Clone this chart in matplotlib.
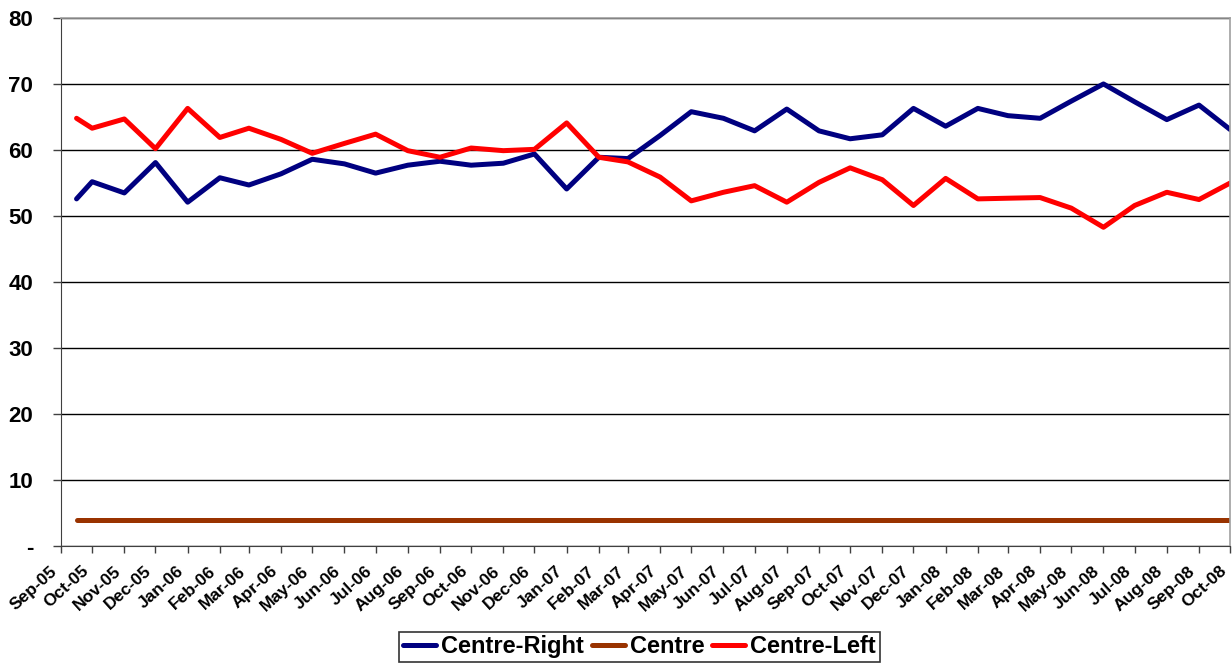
import matplotlib
matplotlib.use('Agg')
import matplotlib.pyplot as plt
import matplotlib.transforms as mtransforms
import pandas as pd

plt.rcParams['font.family'] = ['Liberation Sans', 'DejaVu Sans']
plt.rcParams['font.weight'] = 'bold'

# даты опросов (первая точка - середина сентября 2005, дальше по месяцам)
dates = ['2005-09-16', '2005-10-01', '2005-11-01', '2005-12-01',
         '2006-01-01', '2006-02-01', '2006-03-01', '2006-04-01', '2006-05-01', '2006-06-01',
         '2006-07-01', '2006-08-01', '2006-09-01', '2006-10-01', '2006-11-01', '2006-12-01',
         '2007-01-01', '2007-02-01', '2007-03-01', '2007-04-01', '2007-05-01', '2007-06-01',
         '2007-07-01', '2007-08-01', '2007-09-01', '2007-10-01', '2007-11-01', '2007-12-01',
         '2008-01-01', '2008-02-01', '2008-03-01', '2008-04-01', '2008-05-01', '2008-06-01',
         '2008-07-01', '2008-08-01', '2008-09-01', '2008-10-01']

centre_right = [52.6, 55.2, 53.5, 58.1, 52.1, 55.8, 54.7, 56.4, 58.6, 57.9,
                56.5, 57.7, 58.3, 57.7, 58.0, 59.4, 54.1, 58.9, 58.7, 62.2,
                65.8, 64.8, 62.9, 66.2, 62.9, 61.7, 62.3, 66.3, 63.6, 66.3,
                65.2, 64.8, 67.4, 70.0, 67.3, 64.6, 66.8, 63.1]

centre = [4, 4, 4, 4, 4, 4, 4, 4, 4, 4,
          4, 4, 4, 4, 4, 4, 4, 4, 4, 4,
          4, 4, 4, 4, 4, 4, 4, 4, 4, 4,
          4, 4, 4, 4, 4, 4, 4, 4]

centre_left = [64.8, 63.3, 64.7, 60.2, 66.3, 61.9, 63.3, 61.6, 59.5, 61.0,
               62.4, 59.9, 58.9, 60.3, 59.9, 60.1, 64.1, 58.9, 58.2, 55.9,
               52.3, 53.6, 54.6, 52.1, 55.1, 57.3, 55.5, 51.6, 55.7, 52.6,
               52.7, 52.8, 51.2, 48.3, 51.6, 53.6, 52.5, 55.0]

y_ticks = [0, 10, 20, 30, 40, 50, 60, 70, 80]
y_labels = ['-', '10', '20', '30', '40', '50', '60', '70', '80']

x = pd.to_datetime(dates)
months = pd.date_range('2005-09-01', '2008-10-01', freq='MS')

fig = plt.figure(figsize=(12.32, 6.63), dpi=100)
ax = fig.add_axes([0.0495, 0.176, 0.949, 0.797])

ax.plot(x, centre_right, color='#000080', lw=3.6, label='Centre-Right', solid_capstyle='round')
ax.plot(x, centre, color='#993300', lw=3.6, label='Centre', solid_capstyle='round')
ax.plot(x, centre_left, color='#FF0000', lw=3.6, label='Centre-Left', solid_capstyle='round')

ax.set_xlim(months[0], months[-1])
ax.set_ylim(0, 80)
ax.set_yticks(y_ticks)
ax.set_yticklabels(y_labels, fontsize=16, fontweight='bold')

# подписи месяцев рисуем сами, чтобы сдвинуть их влево-вниз как в Excel
ax.set_xticks(months)
ax.set_xticklabels([])
shift = mtransforms.ScaledTranslation(-11 / 100, -17 / 100, fig.dpi_scale_trans)
for m in months:
    ax.text(m, 0, m.strftime('%b-%y'), transform=ax.get_xaxis_transform() + shift,
            rotation=42, ha='right', va='top', rotation_mode='anchor',
            fontsize=12.5, fontweight='bold', clip_on=False)

ax.tick_params(axis='y', length=6, width=1, pad=14, color='#404040')
ax.tick_params(axis='x', length=5, width=1, color='#404040')

ax.grid(axis='y', color='black', lw=1)
ax.set_axisbelow(True)
for s in ['top', 'right']:
    ax.spines[s].set_color('#a0a0a0')
    ax.spines[s].set_linewidth(1.2)
ax.spines['left'].set_color('#404040')
ax.spines['bottom'].set_color('#404040')

leg = fig.legend(loc='upper center', bbox_to_anchor=(0.519, 0.047), ncol=3,
                 frameon=True, fancybox=False, edgecolor='black',
                 handlelength=1.4, handletextpad=0.2, columnspacing=0.35,
                 borderpad=0.15, borderaxespad=0,
                 prop={'weight': 'bold', 'size': 17})
leg.get_frame().set_linewidth(1.2)

fig.savefig('out.png', dpi=100)
